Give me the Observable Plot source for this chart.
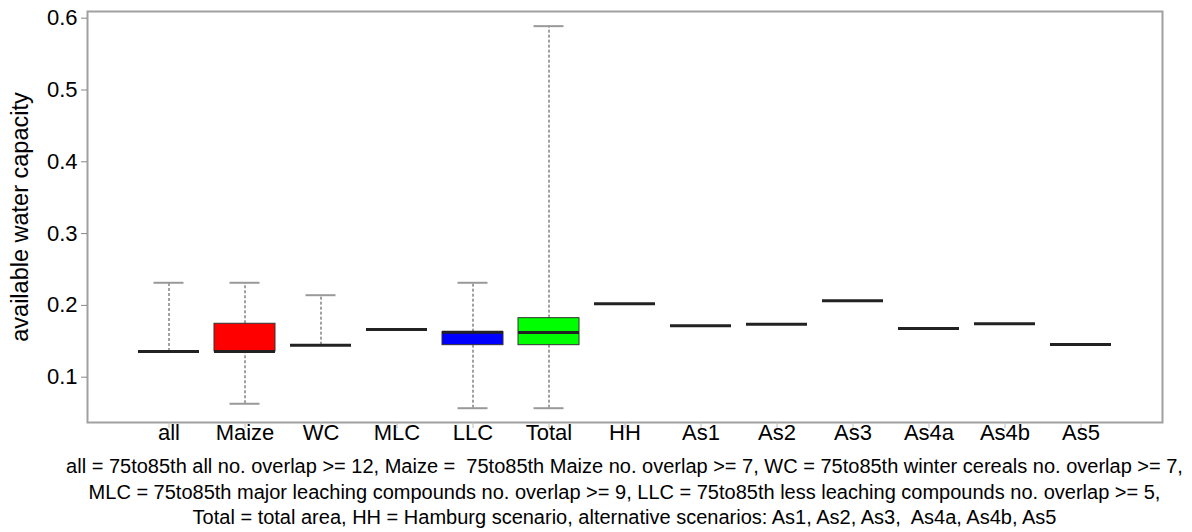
<!DOCTYPE html>
<html>
<head>
<meta charset="utf-8">
<script src="https://cdn.jsdelivr.net/npm/d3@7"></script>
<script src="https://cdn.jsdelivr.net/npm/@observablehq/plot@0.6"></script>
<style>
  body { margin: 0; background: white; font-family: "Liberation Sans", Arial, sans-serif; }
  #caption { width: 1192px; box-sizing: border-box; padding-left: 57px; text-align: center; font-size: 20px; line-height: 25.5px; color: #000; padding-top: 4px; }
  #caption div { white-space: pre; }
</style>
</head>
<body>
<div id="chart"></div>
<div id="caption"></div>
<script>
const categories = ["all", "Maize", "WC", "MLC", "LLC", "Total", "HH", "As1", "As2", "As3", "As4a", "As4b", "As5"];
const lowerWhisker = [0.1358, 0.0630, 0.1446, 0.1664, 0.0568, 0.0568, 0.2022, 0.1716, 0.1738, 0.2064, 0.1678, 0.1744, 0.1455];
const q1Values     = [0.1358, 0.1358, 0.1446, 0.1664, 0.1446, 0.1446, 0.2022, 0.1716, 0.1738, 0.2064, 0.1678, 0.1744, 0.1455];
const medianValues = [0.1358, 0.1358, 0.1446, 0.1664, 0.1627, 0.1623, 0.2022, 0.1716, 0.1738, 0.2064, 0.1678, 0.1744, 0.1455];
const q3Values     = [0.1358, 0.1744, 0.1446, 0.1664, 0.1627, 0.1822, 0.2022, 0.1716, 0.1738, 0.2064, 0.1678, 0.1744, 0.1455];
const upperWhisker = [0.2315, 0.2315, 0.2142, 0.1664, 0.2315, 0.5889, 0.2022, 0.1716, 0.1738, 0.2064, 0.1678, 0.1744, 0.1455];
const boxFill      = ["white", "#ff0000", "white", "white", "#0000ff", "#00ff00", "white", "white", "white", "white", "white", "white", "white"];
const yTicks = [0.1, 0.2, 0.3, 0.4, 0.5, 0.6];
const yLabel = "available water capacity";
const captionLines = [
  "all = 75to85th all no. overlap >= 12, Maize =  75to85th Maize no. overlap >= 7, WC = 75to85th winter cereals no. overlap >= 7,",
  "MLC = 75to85th major leaching compounds no. overlap >= 9, LLC = 75to85th less leaching compounds no. overlap >= 5,",
  "Total = total area, HH = Hamburg scenario, alternative scenarios: As1, As2, As3,  As4a, As4b, As5"
];

const rows = categories.map((c, i) => ({
  cat: c, lo: lowerWhisker[i], q1: q1Values[i], med: medianValues[i], q3: q3Values[i], hi: upperWhisker[i], fill: boxFill[i]
}));
const upperRows = rows.filter(d => d.hi > d.q3);
const lowerRows = rows.filter(d => d.lo < d.q1);
const boxRows = rows.filter(d => d.q3 > d.q1);

const chart = Plot.plot({
  width: 1192,
  height: 450,
  marginLeft: 87,
  marginRight: 30,
  marginTop: 11,
  marginBottom: 28,
  style: { fontFamily: "'Liberation Sans', Arial, sans-serif", color: "#000", background: "white" },
  x: { type: "band", domain: categories, paddingInner: 0.2, paddingOuter: 0.62, align: 0.5 },
  y: { domain: [0.0369, 0.6093] },
  marks: [
    Plot.ruleX(upperRows, { x: "cat", y1: "q3", y2: "hi", stroke: "#444", strokeWidth: 1, strokeDasharray: "3,2" }),
    Plot.ruleX(lowerRows, { x: "cat", y1: "lo", y2: "q1", stroke: "#444", strokeWidth: 1, strokeDasharray: "3,2" }),
    Plot.tickY(upperRows, { x: "cat", y: "hi", stroke: "#999", strokeWidth: 2, insetLeft: 15.5, insetRight: 15.5 }),
    Plot.tickY(lowerRows, { x: "cat", y: "lo", stroke: "#999", strokeWidth: 2, insetLeft: 15.5, insetRight: 15.5 }),
    Plot.barY(boxRows, { x: "cat", y1: "q1", y2: "q3", fill: d => d.fill, stroke: "#333", strokeWidth: 1 }),
    Plot.tickY(rows, { x: "cat", y: "med", stroke: "#222", strokeWidth: 3 }),
    Plot.frame({ stroke: "#a0a0a0", strokeWidth: 2 }),
    Plot.axisY({ ticks: yTicks, tickFormat: d3.format(".1f"), tickSize: 6, tickPadding: 4, fontSize: 22, stroke: "#888", label: null }),
    Plot.axisY({ ticks: [], tickSize: 0, fontSize: 23.5, label: yLabel, labelAnchor: "center", labelArrow: "none", labelOffset: 76 }),
    Plot.axisX({ tickSize: 6, tickFormat: () => "", stroke: "#bbb", label: null }),
    Plot.axisX({ tickSize: 0, tickPadding: 2, fontSize: 22, label: null })
  ]
});
document.getElementById("chart").appendChild(chart);
const cap = document.getElementById("caption");
captionLines.forEach(t => { const d = document.createElement("div"); d.textContent = t; cap.appendChild(d); });
</script>
</body>
</html>
